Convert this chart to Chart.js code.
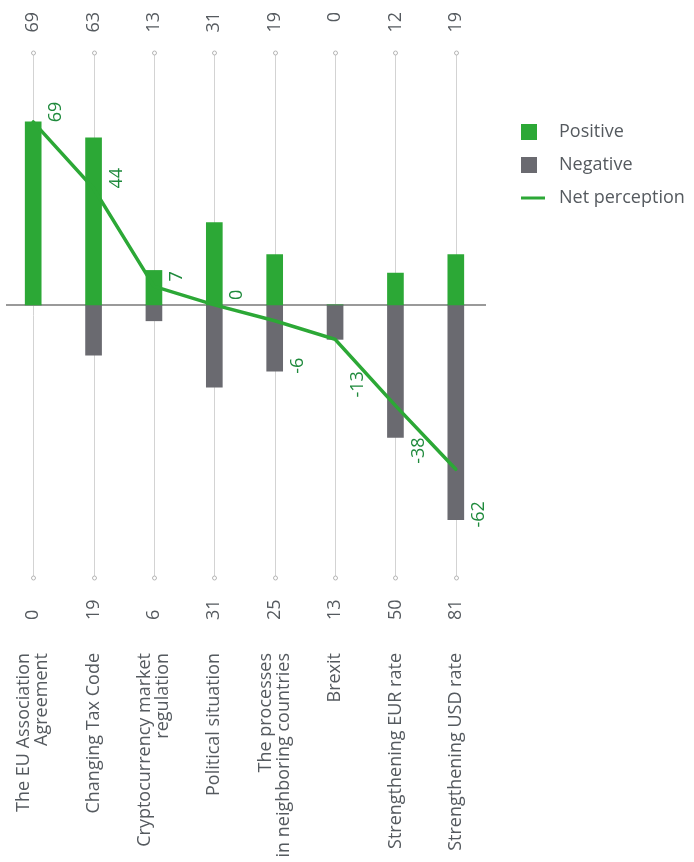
<!DOCTYPE html>
<html>
<head>
<meta charset="utf-8">
<script src="https://cdn.jsdelivr.net/npm/chart.js@4"></script>
<style>
html, body { margin: 0; padding: 0; background: #fff; }
#wrap { position: relative; width: 694px; height: 862px; }
</style>
</head>
<body>
<div id="wrap"><canvas id="chart"></canvas></div>
<script>
// Chart data
const categories = [
    ['The EU Association', 'Agreement'],
    'Changing Tax Code',
    ['Cryptocurrency market', 'regulation'],
    'Political situation',
    ['The processes', 'in neighboring countries'],
    'Brexit',
    'Strengthening EUR rate',
    'Strengthening USD rate'
];
const positive = [69, 63, 13, 31, 19, 0, 12, 19];
const negative = [0, 19, 6, 31, 25, 13, 50, 81];
const net = [69, 44, 7, 0, -6, -13, -38, -62];

const GREEN = '#2ca836';
const GRAY = '#6a6a70';
const LABEL_GREEN = '#1f8a3c';
const TEXT = '#555a5f';
const FONT = '"Open Sans", sans-serif';

// Draws the grid, zero line, rotated labels and legend
const decorations = {
    id: 'decorations',
    beforeDatasetsDraw(chart) {
        const { ctx, chartArea, scales } = chart;
        ctx.save();
        // vertical grid lines with small circles at both ends
        categories.forEach((c, i) => {
            const x = Math.round(scales.x.getPixelForValue(i)) + 0.5;
            ctx.strokeStyle = '#d3d3d3';
            ctx.lineWidth = 1;
            ctx.beginPath();
            ctx.moveTo(x, chartArea.top);
            ctx.lineTo(x, chartArea.bottom);
            ctx.stroke();
            [chartArea.top, chartArea.bottom].forEach(y => {
                ctx.beginPath();
                ctx.arc(x, y, 2, 0, Math.PI * 2);
                ctx.fillStyle = '#fff';
                ctx.fill();
                ctx.strokeStyle = '#b5b5b5';
                ctx.stroke();
            });
        });
        // zero line
        const y0 = scales.y.getPixelForValue(0);
        ctx.strokeStyle = '#9a9a9a';
        ctx.lineWidth = 2;
        ctx.beginPath();
        ctx.moveTo(chartArea.left + 3, y0);
        ctx.lineTo(chartArea.right, y0);
        ctx.stroke();
        ctx.restore();
    },
    afterDatasetsDraw(chart) {
        const { ctx, scales } = chart;
        ctx.save();
        ctx.font = '18px ' + FONT;
        ctx.textBaseline = 'middle';

        function vText(text, x, y, align, color) {
            ctx.save();
            ctx.translate(x, y);
            ctx.rotate(-Math.PI / 2);
            ctx.textAlign = align;
            ctx.fillStyle = color;
            ctx.fillText(text, 0, 0);
            ctx.restore();
        }

        categories.forEach((c, i) => {
            const x = scales.x.getPixelForValue(i);
            // totals at top and bottom
            vText(String(positive[i]), x, 12, 'right', TEXT);
            vText(String(negative[i]), x, 620, 'left', TEXT);
            // category names
            const lines = Array.isArray(c) ? c : [c];
            lines.forEach((line, k) => {
                const dx = (k - (lines.length - 1) / 2) * 18;
                vText(line, x + dx, 653, 'right', TEXT);
            });
            // net perception values next to the line
            const yn = scales.y.getPixelForValue(net[i]);
            const dy = net[i] >= 0 ? -10 : 45;
            vText(String(net[i]), x + 23, yn + dy, 'center', LABEL_GREEN);
        });

        // legend
        const items = [
            { label: 'Positive', color: GREEN, type: 'box', y: 132 },
            { label: 'Negative', color: GRAY, type: 'box', y: 165 },
            { label: 'Net perception', color: GREEN, type: 'line', y: 198 }
        ];
        ctx.textAlign = 'left';
        items.forEach(it => {
            ctx.fillStyle = it.color;
            if (it.type === 'box') {
                ctx.fillRect(521, it.y - 8, 16, 16);
            } else {
                ctx.fillRect(521, it.y - 1.5, 24, 3);
            }
            ctx.fillStyle = TEXT;
            ctx.fillText(it.label, 559, it.y);
        });
        ctx.restore();
    }
};

new Chart(document.getElementById('chart'), {
    type: 'bar',
    data: {
        labels: categories,
        datasets: [
            {
                type: 'line',
                label: 'Net perception',
                data: net,
                borderColor: GREEN,
                borderWidth: 3.5,
                pointRadius: 0,
                tension: 0,
                borderCapStyle: 'round',
                order: 0
            },
            {
                label: 'Positive',
                data: positive,
                backgroundColor: GREEN,
                barThickness: 16,
                grouped: false,
                order: 1
            },
            {
                label: 'Negative',
                data: negative.map(v => -v),
                backgroundColor: GRAY,
                barThickness: 16,
                grouped: false,
                order: 1
            }
        ]
    },
    options: {
        responsive: true,
        maintainAspectRatio: false,
        animation: false,
        layout: { padding: { left: 3, right: 208, top: 53, bottom: 284 } },
        plugins: {
            legend: { display: false },
            tooltip: { enabled: false }
        },
        scales: {
            x: { display: false },
            y: { display: false, min: -103, max: 95 }
        }
    },
    plugins: [decorations]
});
</script>
</body>
</html>
